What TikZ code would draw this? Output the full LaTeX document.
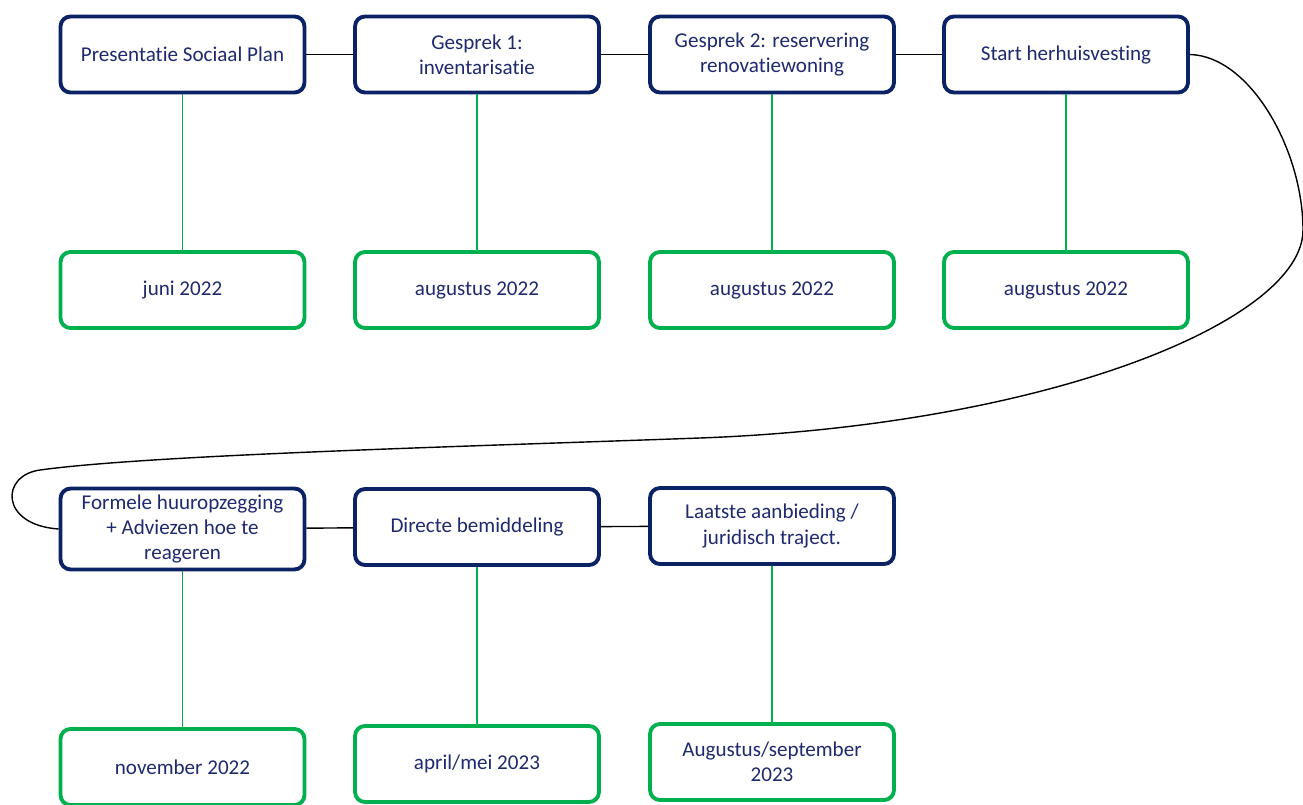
\documentclass[tikz,border=0pt]{standalone}
\usepackage{fontspec}
\setmainfont{Carlito}[Ligatures={NoCommon}]
\usepackage{tikz}
\usepackage{xcolor}

\definecolor{navy}{HTML}{0B2265}
\definecolor{tekst}{HTML}{1F2A6E}
\definecolor{groen}{HTML}{00B04F}

\begin{document}
\begin{tikzpicture}[x=0.02cm, y=-0.02cm]
            % Define styles
            \tikzstyle{stap} = [rectangle, rounded corners=0.2cm, minimum width=4.88cm, minimum height=1.52cm, text centered, draw=navy, line width=2.2pt, fill=white, text=tekst, font=\fontsize{12}{14.5}\selectfont, align=center]
            \tikzstyle{datum} = [stap, draw=groen]
            \tikzstyle{lijn} = [line width=0.8pt, draw=black]
            \tikzstyle{tak} = [line width=1.1pt, draw=groen]
            \useasboundingbox (0,0) rectangle (1303,805);

            % First row - milestones
            \node (presentatie) [stap] at (182.5,54.5) {Presentatie Sociaal Plan};
            \node (gesprek1) [stap] at (477,54.5) {Gesprek 1:\\inventarisatie};
            \node (gesprek2) [stap] at (772,54.5) {Gesprek 2: reservering\\renovatiewoning};
            \node (start) [stap] at (1066,54.5) {Start herhuisvesting};

            % First row - dates
            \node (juni) [datum] at (182.5,290) {juni 2022};
            \node (aug1) [datum] at (477,290) {augustus 2022};
            \node (aug2) [datum] at (772,290) {augustus 2022};
            \node (aug3) [datum] at (1066,290) {augustus 2022};

            % Second row - milestones
            \node (formeel) [stap] at (182.5,529) {Formele huuropzegging\\+ Adviezen hoe te\\reageren};
            \node (bemiddeling) [stap] at (477,527) {Directe bemiddeling};
            \node (laatste) [stap] at (772,526) {Laatste aanbieding /\\juridisch traject.};

            % Second row - dates
            \node (november) [datum] at (182.5,767) {november 2022};
            \node (aprilmei) [datum] at (477,764) {april/mei 2023};
            \node (augsep) [datum] at (772,762) {Augustus/september\\2023};

            % Timeline
            \draw [lijn] (presentatie) -- (gesprek1);
            \draw [lijn] (gesprek1) -- (gesprek2);
            \draw [lijn] (gesprek2) -- (start);
            \draw [lijn] (start.east) .. controls (1250,56) and (1303,150) .. (1303,230)
                .. controls (1303,320) and (1050,425) .. (700,438)
                .. controls (450,447) and (150,455) .. (40,470)
                .. controls (0,475.5) and (0,525) .. (formeel.west);
            \draw [lijn] (formeel) -- (bemiddeling);
            \draw [lijn] (bemiddeling) -- (laatste);

            % Dates below milestones
            \draw [tak] (presentatie) -- (juni);
            \draw [tak] (gesprek1) -- (aug1);
            \draw [tak] (gesprek2) -- (aug2);
            \draw [tak] (start) -- (aug3);
            \draw [tak] (formeel) -- (november);
            \draw [tak] (bemiddeling) -- (aprilmei);
            \draw [tak] (laatste) -- (augsep);
        \end{tikzpicture}
\end{document}
